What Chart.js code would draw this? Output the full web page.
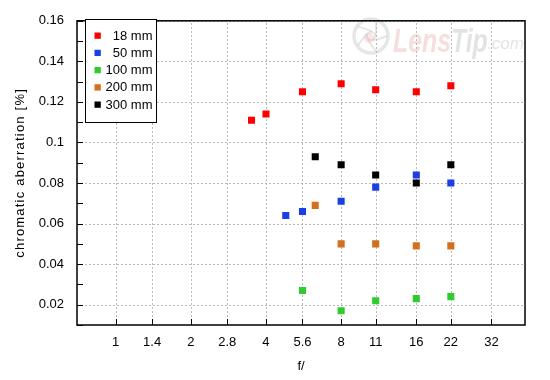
<!DOCTYPE html>
<html><head><meta charset="utf-8">
<script src="https://cdn.jsdelivr.net/npm/chart.js@4/dist/chart.umd.min.js"></script>
<style>html,body{margin:0;padding:0;background:#fff;}canvas{display:block;}</style>
</head><body>
<canvas id="c" width="550" height="380"></canvas>
<script>
// ---- data ----
const seriesNames = ['18 mm', '50 mm', '100 mm', '200 mm', '300 mm'];
const fTicks = [1, 1.4, 2, 2.8, 4, 5.6, 8, 11, 16, 22, 32];
const f18 = [3.5, 4, 5.6, 8, 11, 16, 22];
const ca18 = [0.111, 0.114, 0.125, 0.129, 0.126, 0.125, 0.128];
const f50 = [4.8, 5.6, 8, 11, 16, 22];
const ca50 = [0.064, 0.066, 0.071, 0.078, 0.084, 0.080];
const f100 = [5.6, 8, 11, 16, 22];
const ca100 = [0.027, 0.017, 0.022, 0.023, 0.024];
const f200 = [6.3, 8, 11, 16, 22];
const ca200 = [0.069, 0.050, 0.050, 0.049, 0.049];
const f300 = [6.3, 8, 11, 16, 22];
const ca300 = [0.093, 0.089, 0.084, 0.080, 0.089];
const colors = ['#ff0000', '#1a3fe6', '#2ecc2e', '#d2701e', '#000000'];
const xTitle = 'f/';
const yTitle = 'chromatic aberration [%]';

const fs = [f18, f50, f100, f200, f300];
const cas = [ca18, ca50, ca100, ca200, ca300];
const FONT = "'Liberation Sans', Arial, sans-serif";
const GRID = '#b8b8b8';

const datasets = seriesNames.map((name, i) => ({
  label: name,
  data: fs[i].map((f, j) => ({x: f, y: cas[i][j]})),
  backgroundColor: colors[i],
  borderColor: colors[i],
  borderWidth: 0,
  pointStyle: 'rect',
  pointRadius: 5,
  pointHoverRadius: 5
}));

const dashedGrid = {
  id: 'dashedGrid',
  beforeDatasetsDraw(chart) {
    const ctx = chart.ctx, a = chart.chartArea;
    const xs = chart.scales.x, ys = chart.scales.y;
    ctx.save();
    ctx.strokeStyle = GRID;
    ctx.lineWidth = 1;
    ctx.setLineDash([2, 2]);
    ctx.beginPath();
    xs.ticks.forEach(t => {
      const x = Math.round(xs.getPixelForValue(t.value)) + 0.5;
      ctx.moveTo(x, a.bottom); ctx.lineTo(x, a.top);
    });
    ys.ticks.forEach(t => {
      if (Math.round(t.value * 100) % 2 !== 0) return;
      const y = Math.round(ys.getPixelForValue(t.value)) + 0.5;
      ctx.moveTo(a.left, y); ctx.lineTo(a.right, y);
    });
    ctx.stroke();
    ctx.restore();
  }
};

const watermark = {
  id: 'watermark',
  beforeDatasetsDraw(chart) {
    const ctx = chart.ctx;
    ctx.save();
    ctx.strokeStyle = 'rgba(200,200,200,0.45)';
    ctx.lineWidth = 3.5;
    ctx.beginPath(); ctx.arc(371, 36, 17, 0, Math.PI * 2); ctx.stroke();
    ctx.lineWidth = 2;
    for (let k = 0; k < 5; k++) {
      const a = k * Math.PI * 2 / 5;
      ctx.beginPath();
      ctx.moveTo(371 + 16 * Math.cos(a), 36 + 16 * Math.sin(a));
      ctx.quadraticCurveTo(371 + 6 * Math.cos(a + 1.2), 36 + 6 * Math.sin(a + 1.2),
        371 + 5 * Math.cos(a + 2.4), 36 + 5 * Math.sin(a + 2.4));
      ctx.stroke();
    }
    ctx.fillStyle = 'rgba(235,180,180,0.35)';
    ctx.beginPath(); ctx.arc(369, 38, 5, 0, Math.PI * 2); ctx.fill();
    ctx.textBaseline = 'alphabetic';
    ctx.save();
    ctx.translate(393, 52);
    ctx.scale(0.73, 1);
    ctx.font = "italic bold 34px " + FONT;
    ctx.fillStyle = 'rgba(230,160,160,0.35)';
    ctx.fillText('Lens', 0, 0);
    const w = ctx.measureText('Lens').width;
    ctx.fillStyle = 'rgba(200,200,200,0.5)';
    ctx.fillText('Tip', w, 0);
    ctx.restore();
    ctx.font = "italic 17px " + FONT;
    ctx.fillStyle = 'rgba(200,200,200,0.5)';
    ctx.fillText('.com', 487, 49);
    ctx.restore();
  }
};

const frame = {
  id: 'frame',
  afterDraw(chart) {
    const ctx = chart.ctx;
    const a = chart.chartArea;
    const xs = chart.scales.x, ys = chart.scales.y;
    ctx.save();
    ctx.strokeStyle = '#000';
    ctx.lineWidth = 1.5;
    ctx.strokeRect(a.left, a.top, a.right - a.left, a.bottom - a.top);
    ctx.lineWidth = 1;
    ctx.beginPath();
    ys.ticks.forEach(t => {
      const y = Math.round(ys.getPixelForValue(t.value)) + 0.5;
      ctx.moveTo(a.left, y); ctx.lineTo(a.left + 6, y);
    });
    xs.ticks.forEach(t => {
      const x = Math.round(xs.getPixelForValue(t.value)) + 0.5;
      ctx.moveTo(x, a.bottom); ctx.lineTo(x, a.bottom - 6);
    });
    ctx.stroke();
    // legend
    const L = 85.5, T = 19.5, R = 156.5, B = 122.5;
    ctx.fillStyle = '#fff';
    ctx.fillRect(L, T, R - L, B - T);
    ctx.strokeStyle = '#000';
    ctx.lineWidth = 1;
    ctx.strokeRect(L, T, R - L, B - T);
    ctx.font = "13px " + FONT;
    ctx.textAlign = 'right';
    ctx.textBaseline = 'middle';
    chart.data.datasets.forEach((ds, i) => {
      const cy = 35.5 + i * 17.25;
      ctx.fillStyle = ds.backgroundColor;
      ctx.fillRect(94.5, cy - 3, 6.3, 6.3);
      ctx.fillStyle = '#000';
      ctx.fillText(ds.label, 152.5, cy + 0.5);
    });
    ctx.restore();
  }
};

const spacedTitle = {
  id: 'spacedTitle',
  beforeDraw(chart) {
    const ys = chart.scales.y;
    if (ys && !ys._patched) {
      const orig = ys.drawTitle;
      ys.drawTitle = function () {
        const ctx = this.ctx;
        ctx.save();
        try { ctx.letterSpacing = '1.2px'; } catch (e) {}
        orig.apply(this, arguments);
        ctx.restore();
      };
      ys._patched = true;
    }
  }
};

new Chart(document.getElementById('c'), {
  type: 'scatter',
  data: {datasets},
  options: {
    responsive: false,
    animation: false,
    devicePixelRatio: 1,
    layout: {padding: {top: 16, right: 25, left: 0, bottom: 0}},
    plugins: {legend: {display: false}, tooltip: {enabled: false}},
    events: [],
    scales: {
      x: {
        type: 'logarithmic',
        min: 0.7,
        max: 43.6,
        afterBuildTicks: s => { s.ticks = fTicks.map(v => ({value: v})); },
        afterFit: s => { s.height = 55; },
        grid: {display: false, drawTicks: false},
        border: {display: false},
        ticks: {
          autoSkip: false, maxRotation: 0, minRotation: 0, padding: 10,
          color: '#000', font: {family: FONT, size: 13},
          callback: v => String(v)
        },
        title: {display: true, text: xTitle, color: '#000', font: {family: FONT, size: 13}, padding: {top: 0, bottom: 6}}
      },
      y: {
        type: 'linear',
        min: 0.01,
        max: 0.16,
        afterFit: s => { s.width = 77; },
        grid: {display: false, drawTicks: false},
        border: {display: false},
        ticks: {
          stepSize: 0.01, maxTicksLimit: 30, autoSkip: false, padding: 13,
          color: '#000', font: {family: FONT, size: 13},
          callback: v => { const k = Math.round(v * 100); return k % 2 === 0 ? String(+(k / 100).toFixed(2)) : ''; }
        },
        title: {display: true, text: yTitle, color: '#000', font: {family: FONT, size: 13}, padding: {top: 13, bottom: 0}}
      }
    }
  },
  plugins: [dashedGrid, watermark, frame, spacedTitle]
});
</script>
</body></html>
